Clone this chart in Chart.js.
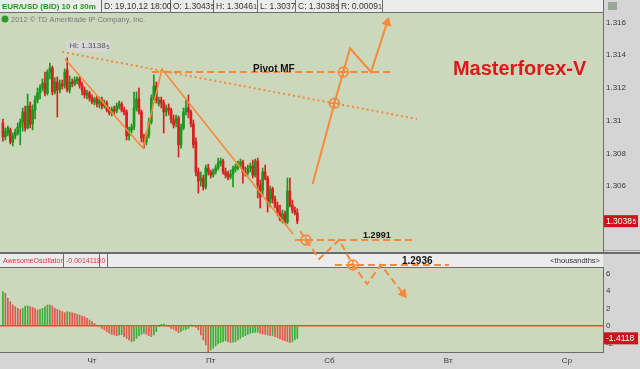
<!DOCTYPE html>
<html>
<head>
<meta charset="utf-8">
<script src="https://cdn.jsdelivr.net/npm/chart.js@4.4.1/dist/chart.umd.min.js"></script>
<style>
  html, body { margin: 0; padding: 0; background: #d5d5d5; }
  #wrap { position: relative; width: 640px; height: 369px; overflow: hidden; }
  canvas { position: absolute; left: 0; top: 0; }
</style>
</head>
<body>
<div id="wrap">
  <canvas id="ao" width="640" height="369"></canvas>
  <canvas id="price" width="640" height="369"></canvas>
</div>
<script>
// EUR/USD 30m candles, oldest first (last one is 19.10.12 18:00)
const opens = [1.30985,1.30900,1.30924,1.30943,1.30869,1.30906,1.30924,1.30961,1.30992,1.31053,
  1.30955,1.31089,1.30979,1.31065,1.31126,1.31169,1.31199,1.31230,1.31169,1.31297,
  1.31322,1.31175,1.31236,1.31187,1.31224,1.31212,1.31310,1.31187,1.31236,1.31224,
  1.31242,1.31255,1.31218,1.31187,1.31157,1.31169,1.31138,1.31114,1.31132,1.31102,
  1.31126,1.31089,1.31108,1.31065,1.31047,1.31071,1.31059,1.31089,1.31102,1.31065,
  1.31053,1.30906,1.30943,1.30961,1.31077,1.31132,1.31053,1.30894,1.30869,1.30912,
  1.30992,1.31138,1.31212,1.31102,1.31126,1.31108,1.31053,1.31077,1.31065,1.31004,
  1.30992,1.31016,1.30851,1.30955,1.31053,1.31077,1.31053,1.30979,1.30869,1.30686,
  1.30630,1.30649,1.30594,1.30710,1.30686,1.30667,1.30686,1.30710,1.30741,1.30753,
  1.30686,1.30673,1.30655,1.30673,1.30704,1.30716,1.30734,1.30747,1.30686,1.30679,
  1.30710,1.30722,1.30667,1.30753,1.30606,1.30575,1.30686,1.30649,1.30502,1.30582,
  1.30520,1.30478,1.30435,1.30398,1.30429,1.30380,1.30569,1.30484,1.30453,1.30435];
const highs = [1.31010,1.30955,1.30967,1.30955,1.30924,1.30949,1.30985,1.31010,1.31077,1.31089,
  1.31163,1.31114,1.31096,1.31151,1.31199,1.31218,1.31255,1.31297,1.31310,1.31352,
  1.31334,1.31261,1.31267,1.31248,1.31248,1.31316,1.31385,1.31273,1.31255,1.31267,
  1.31267,1.31267,1.31236,1.31206,1.31187,1.31181,1.31157,1.31144,1.31151,1.31144,
  1.31144,1.31126,1.31120,1.31083,1.31083,1.31089,1.31108,1.31120,1.31114,1.31083,
  1.31065,1.30961,1.30979,1.31175,1.31175,1.31199,1.31065,1.30918,1.30930,1.31016,
  1.31157,1.31279,1.31236,1.31144,1.31144,1.31126,1.31096,1.31102,1.31077,1.31034,
  1.31034,1.31028,1.30979,1.31077,1.31126,1.31157,1.31065,1.31004,1.30894,1.30710,
  1.30686,1.30667,1.30728,1.30734,1.30698,1.30704,1.30728,1.30771,1.30771,1.30765,
  1.30710,1.30692,1.30698,1.30722,1.30734,1.30753,1.30765,1.30759,1.30716,1.30728,
  1.30741,1.30759,1.30765,1.30771,1.30637,1.30710,1.30728,1.30661,1.30600,1.30594,
  1.30539,1.30502,1.30484,1.30453,1.30447,1.30649,1.30649,1.30514,1.30472,1.30461];
const lows = [1.30875,1.30881,1.30906,1.30857,1.30845,1.30888,1.30912,1.30851,1.30936,1.30936,
  1.30949,1.30955,1.30943,1.31010,1.31108,1.31132,1.31181,1.31151,1.31157,1.31255,
  1.31157,1.31163,1.31022,1.31169,1.31193,1.31199,1.31175,1.31169,1.31206,1.31212,
  1.31224,1.31199,1.31157,1.31138,1.31132,1.31120,1.31102,1.31096,1.31083,1.31077,
  1.31071,1.31077,1.31053,1.31034,1.31028,1.31040,1.31047,1.31071,1.31053,1.31034,
  1.30881,1.30881,1.30924,1.30943,1.31059,1.31040,1.30869,1.30832,1.30851,1.30894,
  1.30979,1.31126,1.31108,1.31089,1.31077,1.30924,1.31028,1.31034,1.30985,1.30955,
  1.30961,1.30777,1.30832,1.30943,1.31034,1.31016,1.30961,1.30832,1.30661,1.30557,
  1.30600,1.30575,1.30582,1.30667,1.30649,1.30655,1.30673,1.30698,1.30722,1.30673,
  1.30649,1.30637,1.30643,1.30594,1.30686,1.30698,1.30716,1.30618,1.30661,1.30667,
  1.30686,1.30649,1.30655,1.30527,1.30466,1.30545,1.30637,1.30441,1.30472,1.30496,
  1.30466,1.30417,1.30386,1.30374,1.30368,1.30368,1.30472,1.30435,1.30423,1.30370];
const closes = [1.30900,1.30936,1.30955,1.30869,1.30906,1.30930,1.30961,1.30992,1.31053,1.30955,
  1.31089,1.30979,1.31065,1.31126,1.31169,1.31199,1.31230,1.31169,1.31297,1.31322,
  1.31175,1.31236,1.31187,1.31224,1.31212,1.31297,1.31187,1.31236,1.31224,1.31248,
  1.31255,1.31218,1.31187,1.31157,1.31169,1.31138,1.31114,1.31132,1.31102,1.31126,
  1.31089,1.31108,1.31065,1.31047,1.31071,1.31059,1.31089,1.31102,1.31065,1.31053,
  1.30906,1.30943,1.30961,1.31077,1.31132,1.31053,1.30894,1.30869,1.30912,1.30992,
  1.31138,1.31212,1.31126,1.31126,1.31108,1.31053,1.31077,1.31065,1.31004,1.30973,
  1.31016,1.30851,1.30955,1.31053,1.31077,1.31053,1.30979,1.30851,1.30686,1.30630,
  1.30649,1.30594,1.30710,1.30686,1.30667,1.30686,1.30710,1.30741,1.30753,1.30686,
  1.30667,1.30655,1.30673,1.30704,1.30716,1.30734,1.30747,1.30686,1.30679,1.30710,
  1.30722,1.30667,1.30753,1.30606,1.30533,1.30686,1.30649,1.30502,1.30582,1.30520,
  1.30478,1.30435,1.30398,1.30429,1.30380,1.30569,1.30484,1.30453,1.30435,1.30385];

// Awesome Oscillator, in thousandths
const aoValues = [3.92,3.73,3.16,2.78,2.40,2.21,2.02,1.90,2.02,2.29,
  2.30,2.21,2.13,1.98,1.83,1.90,2.02,2.21,2.40,2.42,
  2.29,2.02,1.90,1.75,1.64,1.52,1.64,1.58,1.52,1.45,
  1.33,1.26,1.14,1.07,0.88,0.69,0.50,0.30,0.11,-0.08,
  -0.27,-0.46,-0.65,-0.84,-0.95,-1.03,-1.10,-1.03,-0.99,-1.22,
  -1.41,-1.60,-1.79,-1.71,-1.41,-1.14,-0.95,-0.84,-0.95,-1.10,
  -1.22,-1.03,-0.65,-0.08,0.19,0.23,0.11,-0.05,-0.27,-0.38,
  -0.57,-0.76,-0.65,-0.46,-0.38,-0.27,0.11,0.00,-0.15,-0.46,
  -1.03,-1.60,-2.17,-2.93,-2.74,-2.55,-2.29,-2.06,-1.90,-1.79,
  -1.68,-1.79,-1.90,-1.86,-1.79,-1.60,-1.41,-1.22,-1.10,-0.95,
  -0.84,-0.76,-0.72,-0.69,-0.84,-0.91,-0.95,-1.03,-1.10,-1.08,
  -1.22,-1.33,-1.49,-1.60,-1.68,-1.79,-1.90,-1.79,-1.60,-1.41];

const dayTicks = [36, 84, 132, 180, 228];
const dayLabels = ['Чт', 'Пт', 'Сб', 'Вт', 'Ср'];
const priceTicks = [1.304, 1.306, 1.308, 1.31, 1.312, 1.314, 1.316];
const aoTicks = [-2, 0, 2, 4, 6];

// hand drawn analysis (x = candle index, y = price)
const dottedTrend = [{x: 23.9, y: 1.31420}, {x: 167.4, y: 1.31010}];
const zigzag = [{x: 25.1, y: 1.31377}, {x: 56.6, y: 1.30832}, {x: 64.3, y: 1.31316}, {x: 117.3, y: 1.30306}];
const pivotLine = [{x: 60.3, y: 1.31297}, {x: 157.3, y: 1.31297}];
const forecastUp = [{x: 125.2, y: 1.30612}, {x: 134.0, y: 1.31106}, {x: 137.6, y: 1.31297}, {x: 140.3, y: 1.31442}, {x: 148.8, y: 1.31297}, {x: 155.3, y: 1.31600}];
const level2991 = [{x: 118.1, y: 1.30270}, {x: 165.4, y: 1.30270}];
const level2936 = [{x: 134.2, y: 1.30117}, {x: 180.3, y: 1.30117}];
const forecastDown = [{x: 120.1, y: 1.30325}, {x: 127.8, y: 1.30154}, {x: 135.9, y: 1.30270}, {x: 141.5, y: 1.30117}, {x: 147.2, y: 1.30001}, {x: 152.8, y: 1.30117}, {x: 161.8, y: 1.29942}];
const targets = [{x: 134.0, y: 1.31106}, {x: 137.6, y: 1.31297}, {x: 122.5, y: 1.30270}, {x: 141.5, y: 1.30117}];
const notes = [
  {text: 'Pivot MF', x: 101.1, y: 1.31297, dy: 0, font: 'bold 10px "Liberation Sans", Arial', color: '#111'},
  {text: '1.2991', x: 145.6, y: 1.30270, dy: -2, font: 'bold 9px "Liberation Sans", Arial', color: '#111'},
  {text: '1.2936', x: 161.3, y: 1.30117, dy: -1, font: 'bold 10px "Liberation Sans", Arial', color: '#111'},
  {text: 'Masterforex-V', x: 181.9, y: 1.31279, dy: 0, font: 'bold 20px "Liberation Sans", Arial', color: '#e3171b'}
];

const X_MIN = -1.172, X_MAX = 242.56;
const PANE_BOTTOM = 251;
const ORANGE = '#f8893b';
const UP = '#1c961c', DOWN = '#dc1e1e';
const PANEL = '#cbd8bb';
const FONT = '"Liberation Sans", Arial, sans-serif';
const idx = opens.map((_, i) => i);
const candleColors = idx.map(i => closes[i] < opens[i] ? DOWN : UP);
const aoColors = aoValues.map((v, i) => i > 0 && v < aoValues[i - 1] ? '#e0574b' : '#3aad3a');

const lineSet = (data, extra) => Object.assign({
  type: 'line', data, borderColor: ORANGE, borderWidth: 2, pointRadius: 0,
  clip: false, order: 1, tension: 0
}, extra);
const arrowHead = (rot) => ({
  pointRadius: c => c.dataIndex === c.dataset.data.length - 1 ? 5 : 0,
  pointStyle: 'triangle', rotation: rot,
  pointBackgroundColor: ORANGE, pointBorderColor: ORANGE, pointBorderWidth: 1
});

function smallText(ctx, main, sup, x, y, size) {
  ctx.font = size + 'px ' + FONT;
  ctx.fillText(main, x, y);
  if (sup) {
    const w = ctx.measureText(main).width;
    ctx.font = (size - 2) + 'px ' + FONT;
    ctx.fillText(sup, x + w + 0.5, y + 1);
  }
}

const priceFrame = {
  id: 'priceFrame',
  beforeDraw(chart) {
    const {ctx, chartArea: a} = chart;
    ctx.save();
    ctx.fillStyle = PANEL;
    ctx.fillRect(a.left, a.top, a.right - a.left, PANE_BOTTOM - a.top);
    // quote header
    ctx.fillStyle = '#ececec';
    ctx.fillRect(0, 0, a.right, a.top);
    ctx.fillStyle = '#6c6c6c';
    ctx.fillRect(0, a.top - 1, a.right, 1);
    [101, 170, 213, 257, 295, 338, 382].forEach(x => ctx.fillRect(x, 0, 1, a.top - 1));
    ctx.textBaseline = 'middle';
    ctx.fillStyle = '#1f9a1f';
    ctx.font = 'bold 8px ' + FONT;
    ctx.fillText('EUR/USD (BID) 10 d 30m', 2, 6.5);
    ctx.fillStyle = '#333';
    smallText(ctx, 'D: 19.10.12 18:00', '', 104, 6.5, 8.5);
    smallText(ctx, 'O: 1.3043', '5', 173, 6.5, 8.5);
    smallText(ctx, 'H: 1.3046', '1', 216, 6.5, 8.5);
    smallText(ctx, 'L: 1.3037', '', 260, 6.5, 8.5);
    smallText(ctx, 'C: 1.3038', '5', 298, 6.5, 8.5);
    smallText(ctx, 'R: 0.0009', '1', 341, 6.5, 8.5);
    // copyright line
    ctx.fillStyle = '#2a9a2a';
    ctx.beginPath(); ctx.arc(5, 19, 3.5, 0, Math.PI * 2); ctx.fill();
    ctx.fillStyle = '#7a7a7a';
    ctx.font = '7.5px ' + FONT;
    ctx.fillText('2012 © TD Ameritrade IP Company, Inc.', 11, 19.5);
    // small settings icon above the price axis
    ctx.fillStyle = '#9aa89a';
    ctx.fillRect(608, 2, 9, 8);
    ctx.restore();
  },
  afterDraw(chart) {
    const {ctx, chartArea: a, scales: {x, y}} = chart;
    ctx.save();
    ctx.fillStyle = '#6c6c6c';
    ctx.fillRect(a.right, 0, 1, PANE_BOTTOM + 1);
    // high marker
    const hi = Math.max(...highs);
    const hx = x.getPixelForValue(highs.indexOf(hi)) - 1, hy = y.getPixelForValue(hi) - 6;
    ctx.fillStyle = '#d7d7d7';
    ctx.beginPath(); ctx.roundRect(hx, hy - 11, 44, 11, 3); ctx.fill();
    ctx.fillStyle = '#555';
    ctx.textBaseline = 'middle';
    smallText(ctx, 'Hi: 1.3138', '5', hx + 3, hy - 5.5, 8);
    // notes
    ctx.textBaseline = 'alphabetic';
    notes.forEach(n => {
      ctx.font = n.font; ctx.fillStyle = n.color;
      ctx.fillText(n.text, x.getPixelForValue(n.x), y.getPixelForValue(n.y) + n.dy);
    });
    // last price tag
    const last = closes[closes.length - 1];
    const ly = y.getPixelForValue(last);
    ctx.fillStyle = '#c8141a';
    ctx.fillRect(a.right + 1, ly - 6, 34, 12);
    ctx.fillStyle = '#fff';
    ctx.textBaseline = 'middle';
    smallText(ctx, '1.3038', '5', a.right + 3, ly, 8.5);
    ctx.restore();
  }
};

const aoFrame = {
  id: 'aoFrame',
  beforeDraw(chart) {
    const {ctx, chartArea: a} = chart;
    ctx.save();
    ctx.fillStyle = PANEL;
    ctx.fillRect(a.left, a.top, a.right - a.left, a.bottom - a.top);
    // separator between panes
    ctx.fillStyle = '#a4a4a4';
    ctx.fillRect(0, 250, 640, 1);
    ctx.fillStyle = '#6a6a6a';
    ctx.fillRect(0, 252, 640, 2);
    // indicator header
    ctx.fillStyle = '#ececec';
    ctx.fillRect(0, 254, a.right, a.top - 255);
    ctx.fillStyle = '#6c6c6c';
    ctx.fillRect(0, a.top - 1, a.right + 1, 1);
    [63, 99, 107].forEach(xx => ctx.fillRect(xx, 254, 1, a.top - 255));
    ctx.textBaseline = 'middle';
    ctx.fillStyle = '#d23a3a';
    ctx.font = '7px ' + FONT;
    ctx.fillText('AwesomeOscillator', 3, 261);
    ctx.fillText('-0.0014118', 66, 261);
    ctx.fillText('0', 101.5, 261);
    ctx.fillStyle = '#333';
    ctx.textAlign = 'right';
    ctx.font = '7.5px ' + FONT;
    ctx.fillText('<thousandths>', 600, 261);
    ctx.restore();
  },
  afterDraw(chart) {
    const {ctx, chartArea: a, scales: {y}} = chart;
    ctx.save();
    ctx.fillStyle = '#6c6c6c';
    ctx.fillRect(a.right, a.top, 1, a.bottom - a.top + 1);
    ctx.fillRect(0, a.bottom, a.right, 1);
    const last = aoValues[aoValues.length - 1];
    const ly = y.getPixelForValue(last);
    ctx.fillStyle = '#c8141a';
    ctx.fillRect(a.right + 1, ly - 6, 34, 12);
    ctx.fillStyle = '#fff';
    ctx.textBaseline = 'middle';
    ctx.font = '8.5px ' + FONT;
    ctx.fillText('-1.4118', a.right + 3, ly);
    ctx.restore();
  }
};

const axisTicks = {color: '#3a3a3a', font: {family: FONT, size: 8}, padding: 3};

new Chart(document.getElementById('ao'), {
  type: 'bar',
  data: {
    datasets: [{
      data: idx.map(i => ({x: i, y: aoValues[i]})),
      backgroundColor: aoColors, barThickness: 1, grouped: false
    }]
  },
  options: {
    responsive: false, animation: false, events: [],
    layout: {autoPadding: false, padding: {top: 268, left: 0, right: 0, bottom: 0}},
    plugins: {legend: {display: false}, tooltip: {enabled: false}},
    scales: {
      x: {
        type: 'linear', min: X_MIN, max: X_MAX, offset: false,
        afterBuildTicks: s => { s.ticks = dayTicks.map(v => ({value: v})); },
        afterFit: s => { s.height = 17; },
        ticks: Object.assign({}, axisTicks, {
          autoSkip: false, maxRotation: 0, padding: 4,
          callback: v => dayLabels[dayTicks.indexOf(v)]
        }),
        grid: {display: false, drawTicks: false}, border: {display: false}
      },
      y: {
        position: 'right', min: -2.971, max: 6.629,
        afterBuildTicks: s => { s.ticks = aoTicks.map(v => ({value: v})); },
        afterFit: s => { s.width = 37; },
        ticks: axisTicks,
        grid: {
          drawTicks: false, lineWidth: 1.5,
          color: c => c.tick && c.tick.value === 0 ? '#f04a2a' : 'rgba(0,0,0,0)'
        },
        border: {display: false}
      }
    }
  },
  plugins: [aoFrame]
});

new Chart(document.getElementById('price'), {
  type: 'bar',
  data: {
    datasets: [
      lineSet(dottedTrend, {borderDash: [2, 3]}),
      lineSet(zigzag, {borderWidth: 1.6}),
      lineSet(pivotLine, {borderDash: [7, 4]}),
      lineSet(level2991, {borderDash: [7, 4]}),
      lineSet(level2936, {borderDash: [7, 4]}),
      lineSet(forecastUp, arrowHead(18)),
      lineSet(forecastDown, Object.assign({borderDash: [7, 4]}, arrowHead(140))),
      lineSet(targets, {showLine: false, pointStyle: 'circle', pointRadius: 5, pointBorderWidth: 1.6,
        pointBorderColor: ORANGE, pointBackgroundColor: 'rgba(0,0,0,0)', order: 0}),
      lineSet(targets, {showLine: false, pointStyle: 'cross', pointRadius: 5, pointBorderWidth: 1.4,
        pointBorderColor: ORANGE, order: 0}),
      {
        data: idx.map(i => ({x: i, y: [lows[i], highs[i]]})),
        backgroundColor: candleColors, barThickness: 1, grouped: false, order: 11
      },
      {
        data: idx.map(i => ({x: i, y: [opens[i], closes[i]]})),
        backgroundColor: candleColors, barThickness: 2, grouped: false, order: 10
      }
    ]
  },
  options: {
    responsive: false, animation: false, events: [],
    // plot area runs on below the price pane so the projections can spill over
    layout: {autoPadding: false, padding: {top: 13, left: 0, right: 0, bottom: 69}},
    plugins: {legend: {display: false}, tooltip: {enabled: false}},
    scales: {
      x: {type: 'linear', min: X_MIN, max: X_MAX, offset: false, display: false},
      y: {
        position: 'right', min: 1.29903, max: 1.31658,
        afterBuildTicks: s => { s.ticks = priceTicks.map(v => ({value: v})); },
        afterFit: s => { s.width = 37; },
        ticks: Object.assign({}, axisTicks, {callback: v => String(Number(v.toFixed(3)))}),
        grid: {display: false, drawTicks: false},
        border: {display: false}
      }
    }
  },
  plugins: [priceFrame]
});
</script>
</body>
</html>
